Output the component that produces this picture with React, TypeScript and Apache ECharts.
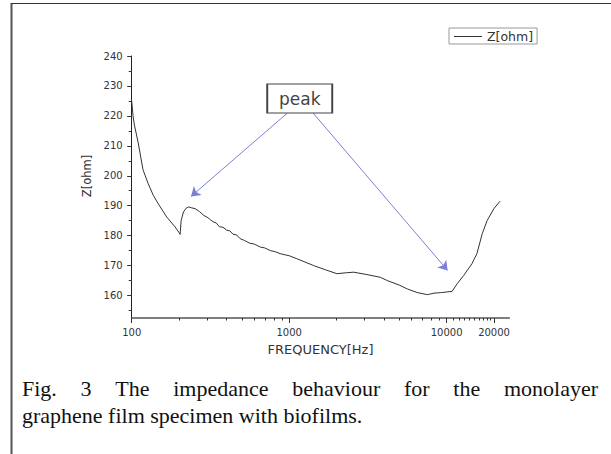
import React, { useEffect, useRef } from "react";
import * as echarts from "echarts";

// ---- data ----
const freqHz = [
  100, 102, 104, 110, 118, 127, 137, 148, 167, 188, 200, 203, 206, 213, 222, 229, 240, 253,
  270, 286, 305, 318, 330, 345, 360, 380, 402, 420, 440, 465, 488, 520, 560, 600, 655, 700, 760,
  820, 876, 940, 1000, 1118, 1260, 1431, 1700, 2009, 2300, 2571, 3115, 3790, 4198, 5000, 5628,
  6500, 7549, 8310, 9300, 10830, 11650, 12830, 14470, 15570, 16840, 18100, 19940, 21820,
];
const impedance = [
  225, 220, 217, 211, 202, 197.5, 193.5, 190.5, 186.2, 183, 181, 180.4, 185, 187.9, 189.2,
  189.6, 189.3, 189, 188, 186.8, 186, 185.2, 184.6, 184.2, 183, 182.8, 181.8, 181.6, 180.5,
  180.2, 179, 178.4, 177.5, 177.2, 176.2, 175.9, 175, 174.6, 174, 173.6, 173.3, 172.3, 171.2,
  170, 168.6, 167.3, 167.6, 167.8, 167, 166.1, 165, 163.5, 162.2, 161, 160.3, 160.8, 161, 161.4,
  163.9, 166.7, 170.6, 174, 180.7, 185.1, 189, 191.5,
];

const xMajorTicks = [100, 1000, 10000, 20000];
const xMinorTicks = [
  200, 300, 400, 500, 600, 700, 800, 900, 2000, 3000, 4000, 5000, 6000, 7000, 8000, 9000,
  11000, 12000, 13000, 14000, 15000, 16000, 17000, 18000, 19000,
];
const yMajorTicks = [160, 170, 180, 190, 200, 210, 220, 230, 240];
const yMinorTicks = [155, 165, 175, 185, 195, 205, 215, 225, 235];

const seriesName = "Z[ohm]";
const xName = "FREQUENCY[Hz]";
const yName = "Z[ohm]";
const peakLabel = "peak";
// annotation anchors in data space: [freq, Z]
const peakBoxAt = [1167, 225.8];
const arrowLeft = [[972, 220.9], [238, 193.1]];
const arrowRight = [[1422, 220.9], [10140, 168.4]];

const captionLine1 = "Fig. 3 The impedance behaviour for the monolayer";
const captionLine2 = "graphene film specimen with biofilms.";

const X_MIN = 100;
const X_MAX = 25000;
const Y_MIN = 152.5;
const Y_MAX = 240;

const SANS = "DejaVu Sans";
const SERIF = "Liberation Serif";

function justifiedWords(text: string, x0: number, x1: number, y: number, font: string, size: number) {
  const words = text.split(" ");
  const cv = document.createElement("canvas");
  const ctx = cv.getContext("2d") as CanvasRenderingContext2D;
  ctx.font = `${size}px "${font}"`;
  const widths = words.map((w) => ctx.measureText(w).width);
  const total = widths.reduce((a, b) => a + b, 0);
  const gap = (x1 - x0 - total) / (words.length - 1);
  let x = x0;
  return words.map((w, i) => {
    const el = {
      type: "text",
      x,
      y,
      style: {
        text: w,
        font: `${size}px "${font}"`,
        fill: "#111",
        verticalAlign: "middle",
      },
      silent: true,
    };
    x += widths[i] + gap;
    return el;
  });
}

export default function App() {
  const ref = useRef<HTMLDivElement>(null);

  useEffect(() => {
    if (!ref.current) return;
    const chart = echarts.init(ref.current, null, { renderer: "svg" });
    const data = freqHz.map((f, i) => [f, impedance[i]]);

    const axisText = { fontFamily: SANS, fontSize: 10, color: "#333" };
    const arrowColor = "#7d7fd6";

    chart.setOption({
      animation: false,
      backgroundColor: "#fff",
      textStyle: { fontFamily: SANS },
      grid: { left: 131.7, right: 101.7, top: 56, bottom: 136, containLabel: false, outerBoundsMode: "none" },
      legend: {
        data: [seriesName],
        left: 449,
        top: 28,
        icon: "rect",
        itemWidth: 28,
        itemHeight: 1,
        padding: [2, 4, 1, 5],
        borderColor: "#999",
        borderWidth: 1,
        textStyle: { fontFamily: SANS, fontSize: 12.5, color: "#333" },
      },
      xAxis: [
        {
          type: "log",
          logBase: 10,
          min: X_MIN,
          max: X_MAX,
          position: "bottom",
          name: xName,
          nameLocation: "middle",
          nameGap: 25,
          nameTextStyle: { fontFamily: SANS, fontSize: 13, color: "#333" },
          axisLine: { show: true, lineStyle: { color: "#555", width: 1.5 } },
          axisTick: { show: true, inside: false, length: 5, customValues: xMajorTicks, lineStyle: { color: "#333" } },
          axisLabel: { show: true, margin: 9, customValues: xMajorTicks, ...axisText, formatter: (v: number) => String(Math.round(v)) },
          splitLine: { show: false },
          minorTick: { show: false },
        },
        {
          type: "log",
          logBase: 10,
          min: X_MIN,
          max: X_MAX,
          position: "bottom",
          axisLine: { show: false },
          axisTick: { show: true, inside: false, length: 2.5, customValues: xMinorTicks, lineStyle: { color: "#333" } },
          axisLabel: { show: false },
          splitLine: { show: false },
        },
      ],
      yAxis: [
        {
          type: "value",
          min: Y_MIN,
          max: Y_MAX,
          position: "left",
          name: yName,
          nameLocation: "middle",
          nameGap: 38,
          nameTextStyle: { fontFamily: SANS, fontSize: 11.5, color: "#333", padding: [0, 0, 0, 22] },
          axisLine: { show: true, lineStyle: { color: "#222", width: 1 } },
          axisTick: { show: true, inside: false, length: 4.5, customValues: yMajorTicks, lineStyle: { color: "#333" } },
          axisLabel: { show: true, margin: 9, customValues: yMajorTicks, ...axisText },
          splitLine: { show: false },
        },
        {
          type: "value",
          min: Y_MIN,
          max: Y_MAX,
          position: "left",
          axisLine: { show: false },
          axisTick: { show: true, inside: false, length: 3, customValues: yMinorTicks, lineStyle: { color: "#333" } },
          axisLabel: { show: false },
          splitLine: { show: false },
        },
      ],
      series: [
        {
          name: seriesName,
          type: "line",
          xAxisIndex: 0,
          yAxisIndex: 0,
          data,
          showSymbol: false,
          symbol: "none",
          lineStyle: { color: "#333", width: 1 },
          itemStyle: { color: "#333" },
          markLine: {
            silent: true,
            symbol: ["none", "arrow"],
            symbolSize: 9,
            label: { show: false },
            lineStyle: { color: arrowColor, width: 1, type: "solid" },
            itemStyle: { color: arrowColor },
            emphasis: { disabled: true },
            data: [
              [{ coord: arrowLeft[0], symbol: "none" }, { coord: arrowLeft[1], symbol: "arrow", symbolSize: 9 }],
              [{ coord: arrowRight[0], symbol: "none" }, { coord: arrowRight[1], symbol: "arrow", symbolSize: 9 }],
            ],
          },
          markPoint: {
            silent: true,
            data: [
              {
                coord: peakBoxAt,
                symbol: "rect",
                symbolSize: [65, 29],
                itemStyle: { color: "#fff", borderColor: "#444", borderWidth: 1.3 },
                label: {
                  show: true,
                  position: "inside",
                  formatter: peakLabel,
                  fontFamily: SANS,
                  fontSize: 17,
                  color: "#444",
                },
              },
            ],
          },
        },
      ],
      graphic: [
        { type: "line", shape: { x1: 11.5, y1: 3, x2: 11.5, y2: 454 }, style: { stroke: "#555", lineWidth: 2 }, silent: true },
        { type: "line", shape: { x1: 11, y1: 3.5, x2: 611, y2: 3.5 }, style: { stroke: "#333", lineWidth: 1 }, silent: true },
        ...justifiedWords(captionLine1, 22, 598, 388, SERIF, 22),
        {
          type: "text",
          x: 22,
          y: 415,
          style: { text: captionLine2, font: `22px "${SERIF}"`, fill: "#111", verticalAlign: "middle" },
          silent: true,
        },
      ],
    });

    return () => chart.dispose();
  }, []);

  return (
    <div
      ref={ref}
      style={{ position: "fixed", left: 0, top: 0, width: 611, height: 454, background: "#fff" }}
    />
  );
}
